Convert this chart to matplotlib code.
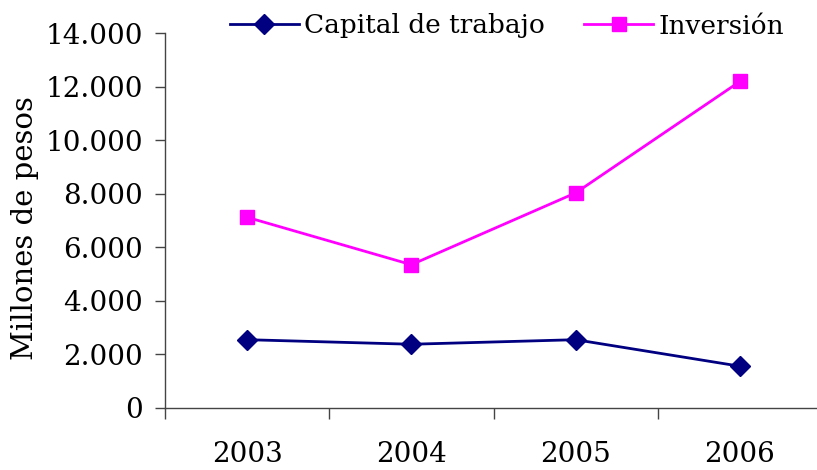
import numpy as np
import matplotlib
matplotlib.use("Agg")
import matplotlib.pyplot as plt
from matplotlib.ticker import FuncFormatter, FixedLocator

years = ["2003", "2004", "2005", "2006"]
capital = [2550, 2380, 2550, 1560]
inversion = [7120, 5350, 8030, 12190]
yticks = [0, 2000, 4000, 6000, 8000, 10000, 12000, 14000]

plt.rcParams["font.family"] = "DejaVu Serif"

fig = plt.figure(figsize=(8.17, 4.70), dpi=100)
ax = fig.add_axes([165 / 817, 1 - 408 / 470, 657 / 817, 375 / 470])

x = np.arange(len(years)) + 0.5
ax.plot(x, capital, color="#000080", lw=2, marker="D", ms=10,
        label="Capital de trabajo", clip_on=False)
ax.plot(x, inversion, color="#FF00FF", lw=2, marker="s", ms=10,
        label="Inversión", clip_on=False)

ax.set_xlim(0, len(years))
ax.set_ylim(0, 14000)
ax.set_yticks(yticks)
ax.yaxis.set_major_formatter(FuncFormatter(lambda v, p: f"{int(v):,}".replace(",", ".")))

# category boundaries as ticks, labels in the middle
ax.xaxis.set_major_locator(FixedLocator(np.arange(len(years) + 1)))
ax.xaxis.set_minor_locator(FixedLocator(x))
ax.set_xticklabels([""] * (len(years) + 1))
ax.set_xticklabels(years, minor=True)
ax.tick_params(axis="x", which="major", length=8, width=1, color="#444444", direction="out")
ax.tick_params(axis="x", which="minor", length=0, pad=24, labelsize=20)
ax.tick_params(axis="y", length=7, width=1, color="#444444", direction="out",
               pad=9, labelsize=20)

for s in ["top", "right"]:
    ax.spines[s].set_visible(False)
for s in ["left", "bottom"]:
    ax.spines[s].set_color("#444444")
    ax.spines[s].set_linewidth(1)

fig.text(25 / 817, 1 - 228 / 470, "Millones de pesos", rotation=90,
         ha="center", va="center", fontsize=21)

fig.legend(loc="center", bbox_to_anchor=(507 / 817, 1 - 26 / 470), ncol=2,
           frameon=False, fontsize=19, handlelength=2.6, handletextpad=0.2,
           columnspacing=1.5, borderaxespad=0)

fig.savefig("out.png", dpi=100)
